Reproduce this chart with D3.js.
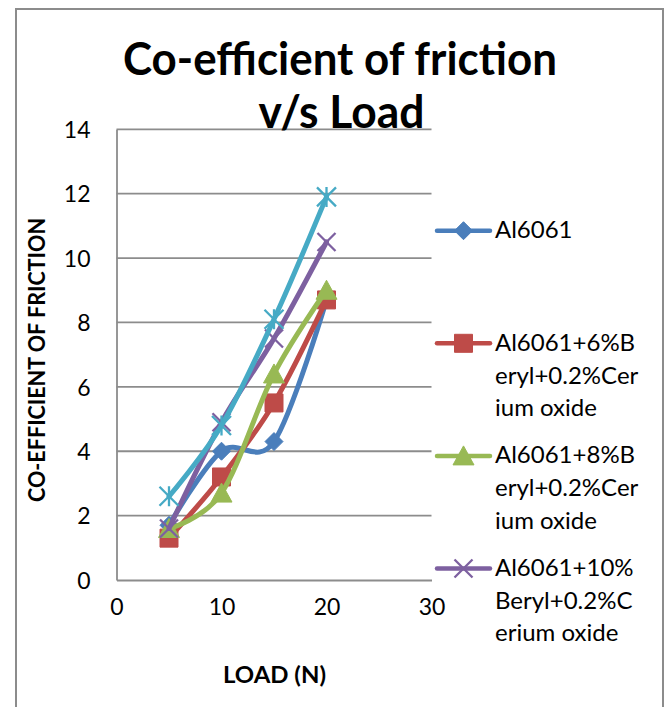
<!DOCTYPE html>
<html>
<head>
<meta charset="utf-8">
<script src="https://cdn.jsdelivr.net/npm/d3@7"></script>
<style>
  html, body { margin: 0; padding: 0; background: #fff; }
  svg { display: block; }
  text { font-family: Lato, "Open Sans", sans-serif; fill: #000; }
</style>
</head>
<body>
<svg id="chart" width="667" height="707"></svg>
<script>
// Load (N) on the x axis
const loads = [5, 10, 15, 20];

// Co-efficient of friction for each material
const al6061        = [1.7, 4.0, 4.3, 8.7];
const beryl6Cerium  = [1.3, 3.2, 5.5, 8.7];
const beryl8Cerium  = [1.6, 2.7, 6.4, 9.0];
const beryl10Cerium = [1.6, 4.9, 7.5, 10.5];
const series5       = [2.6, 4.8, 8.1, 11.9];

// Legend text, wrapped the way the legend box wraps it
const legendLines = [
  ["Al6061"],
  ["Al6061+6%B", "eryl+0.2%Cer", "ium oxide"],
  ["Al6061+8%B", "eryl+0.2%Cer", "ium oxide"],
  ["Al6061+10%", "Beryl+0.2%C", "erium oxide"]
];

const xTicks = [0, 10, 20, 30];
const yTicks = [0, 2, 4, 6, 8, 10, 12, 14];

const titleLines = ["Co-efficient of friction", "v/s Load"];
const xTitle = "LOAD (N)";
const yTitle = "CO-EFFICIENT OF FRICTION";

const seriesList = [
  { values: al6061,        color: "#4A7EBB", marker: "diamond", legend: 0 },
  { values: beryl6Cerium,  color: "#BE4B48", marker: "square",  legend: 1 },
  { values: beryl8Cerium,  color: "#98B954", marker: "triangle",legend: 2 },
  { values: beryl10Cerium, color: "#7D60A0", marker: "cross",   legend: 3 },
  { values: series5,       color: "#46AAC5", marker: "star",    legend: null }
];

const svg = d3.select("#chart");
const gridColor = "#8c8c8c";

// outer chart frame
svg.append("rect")
  .attr("x", 16).attr("y", 9)
  .attr("width", 647).attr("height", 720)
  .attr("fill", "none").attr("stroke", gridColor).attr("stroke-width", 2);

const x = d3.scaleLinear().domain([0, 30]).range([116.5, 431.5]);
const y = d3.scaleLinear().domain([0, 14]).range([580, 129.3]);

// horizontal gridlines
svg.append("g").selectAll("line")
  .data(yTicks.filter(t => t > 0))
  .join("line")
  .attr("x1", x(0)).attr("x2", x(30))
  .attr("y1", d => y(d)).attr("y2", d => y(d))
  .attr("stroke", gridColor).attr("stroke-width", 1.8);

// axes (lines only, no tick marks)
const yAxis = d3.axisLeft(y).tickValues(yTicks).tickSize(0).tickPadding(26);
const gy = svg.append("g").attr("transform", `translate(${x(0)},0)`).call(yAxis);
const xAxis = d3.axisBottom(x).tickValues(xTicks).tickSize(0).tickPadding(35);
const gx = svg.append("g").attr("transform", `translate(0,${y(0)})`).call(xAxis);
[gx, gy].forEach(g => {
  g.select(".domain").attr("stroke", gridColor).attr("stroke-width", 1.8);
  g.selectAll("text")
    .style("font-family", "Lato, sans-serif")
    .style("font-size", "23px")
    .attr("fill", "#000");
});
gy.selectAll("text").attr("dy", "0.36em");
gx.selectAll("text").attr("dy", "0");

// title
svg.append("text")
  .attr("x", 340).attr("y", 75)
  .attr("text-anchor", "middle")
  .attr("textLength", 434).attr("lengthAdjust", "spacingAndGlyphs")
  .style("font-size", "46px").style("font-weight", "bold")
  .text(titleLines[0]);
svg.append("text")
  .attr("x", 341.5).attr("y", 128)
  .attr("text-anchor", "middle")
  .attr("textLength", 166).attr("lengthAdjust", "spacingAndGlyphs")
  .style("font-size", "46px").style("font-weight", "bold")
  .text(titleLines[1]);

// axis titles
svg.append("text")
  .attr("x", 274.5).attr("y", 683)
  .attr("text-anchor", "middle")
  .attr("textLength", 103).attr("lengthAdjust", "spacingAndGlyphs")
  .style("font-size", "23px").style("font-weight", "bold")
  .text(xTitle);
svg.append("text")
  .attr("transform", "translate(45,360) rotate(-90)")
  .attr("text-anchor", "middle")
  .attr("textLength", 284).attr("lengthAdjust", "spacingAndGlyphs")
  .style("font-size", "22px").style("font-weight", "bold")
  .text(yTitle);

// marker shapes
function markerPath(type) {
  switch (type) {
    case "diamond":  return "M0,-9L9,0L0,9L-9,0Z";
    case "square":   return "M-9,-9H9V9H-9Z";
    case "triangle": return "M0,-10L10.5,9L-10.5,9Z";
    case "cross":    return "M-9,-9L9,9M9,-9L-9,9";
    case "star":     return "M-9.5,-9.5L9.5,9.5M9.5,-9.5L-9.5,9.5M0,-10V10";
  }
}
function drawMarker(g, type, color, cx, cy) {
  const open = type === "cross" || type === "star";
  g.append("path")
    .attr("transform", `translate(${cx},${cy})`)
    .attr("d", markerPath(type))
    .attr("fill", open ? "none" : color)
    .attr("stroke", color)
    .attr("stroke-width", open ? 2.3 : 1);
}

// smoothed series lines with markers
const line = d3.line()
  .x((d, i) => x(loads[i]))
  .y(d => y(d))
  .curve(d3.curveCardinal.tension(0));

const plot = svg.append("g");
seriesList.forEach(s => {
  const g = plot.append("g");
  g.append("path")
    .attr("d", line(s.values))
    .attr("fill", "none")
    .attr("stroke", s.color)
    .attr("stroke-width", 5)
    .attr("stroke-linejoin", "round")
    .attr("stroke-linecap", "round");
  s.values.forEach((v, i) => drawMarker(g, s.marker, s.color, x(loads[i]), y(v)));
});

// legend
const legend = svg.append("g");
seriesList.filter(s => s.legend !== null).forEach(s => {
  const ly = 230.7 + 112.6 * s.legend;
  const g = legend.append("g");
  g.append("line")
    .attr("x1", 437).attr("x2", 490)
    .attr("y1", ly).attr("y2", ly)
    .attr("stroke", s.color).attr("stroke-width", 4.5)
    .attr("stroke-linecap", "round");
  drawMarker(g, s.marker, s.color, 463.5, ly);
  legendLines[s.legend].forEach((t, k) => {
    g.append("text")
      .attr("x", 495)
      .attr("y", ly + 7.5 + k * 32.7)
      .style("font-size", "24px")
      .text(t);
  });
});
</script>
</body>
</html>
